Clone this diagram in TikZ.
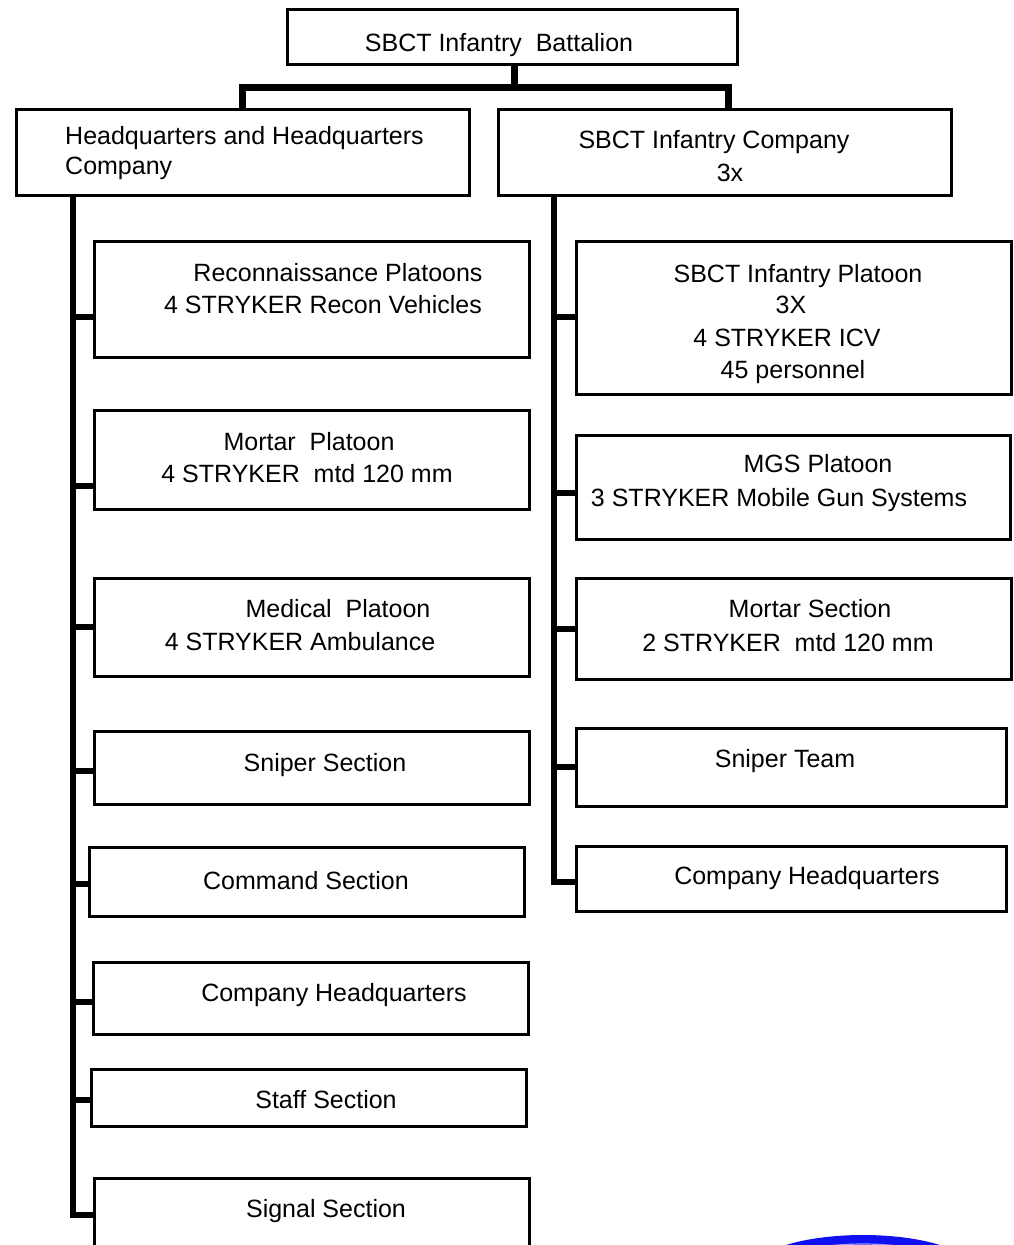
\documentclass[tikz,border=0pt]{standalone}
\usepackage{fontspec}
\setmainfont{Liberation Sans}
\usepackage{tikz}
\usetikzlibrary{positioning,calc}
\usepackage{xcolor}
\definecolor{logoblue}{HTML}{1010F0}
\newcommand{\orgbox}[5]{%
  \node[draw=black,line width=2.6pt,minimum width={(#4-#2)*1pt},
        minimum height={(#5-#3)*1pt},anchor=north west,inner sep=0pt] (#1) at (#2,#3) {};
}

\begin{document}
\begin{tikzpicture}[x=1pt,y=-1pt,
    lbl/.style={font=\fontsize{25}{30}\selectfont,inner sep=0pt,anchor=base},
    trunk/.style={line width=7pt},
    spine/.style={line width=5.5pt},
    branch/.style={line width=6pt,line cap=rect}]
  \useasboundingbox (0,0) rectangle (1013,1245);
  \clip (0,0) rectangle (1013,1245);

  \orgbox{bn}{286}{8}{736}{63}
  \orgbox{hhc}{15}{108}{468}{194}
  \orgbox{co}{497}{108}{950}{194}

  \orgbox{recon}{93}{240}{528}{356}
  \orgbox{mortar}{93}{409}{528}{508}
  \orgbox{medic}{93}{577}{528}{675}
  \orgbox{snipsec}{93}{730}{528}{803}
  \orgbox{cmdsec}{88}{846}{523}{915}
  \orgbox{cohq}{92}{961}{527}{1033}
  \orgbox{staff}{90}{1068}{525}{1125}
  \orgbox{signal}{93}{1177}{528}{1275}

  \orgbox{ipl}{575}{240}{1010}{393}
  \orgbox{mgs}{575}{434}{1009}{538}
  \orgbox{mortsec}{575}{577}{1010}{678}
  \orgbox{sniptm}{575}{727}{1005}{805}
  \orgbox{rcohq}{575}{845}{1005}{910}

  \node[lbl] (bn-t) at (499,51) {SBCT Infantry~ Battalion};
  \node[lbl,anchor=base west] (hhc-t1) at (65,144) {Headquarters and Headquarters};
  \node[lbl,anchor=base west] (hhc-t2) at (65,174) {Company};
  \foreach \nm/\x/\y/\t in {co-t1/714/148/SBCT Infantry Company, co-t2/730/181/3x,
      recon-t1/338/281/Reconnaissance Platoons, recon-t2/323/313/4 STRYKER Recon Vehicles,
      mortar-t1/309/450/Mortar~ Platoon, mortar-t2/307/482/4 STRYKER~ mtd 120 mm,
      medic-t1/338/617/Medical~ Platoon, medic-t2/300/650/4 STRYKER Ambulance,
      snipsec-t/325/771/Sniper Section, cmdsec-t/306/889/Command Section,
      cohq-t/334/1001/Company Headquarters, staff-t/326/1108/Staff Section,
      signal-t/326/1217/Signal Section,
      ipl-t1/798/282/SBCT Infantry Platoon, ipl-t2/791/313/3X,
      ipl-t3/787/346/4 STRYKER ICV, ipl-t4/793/378/45 personnel,
      mgs-t1/818/472/MGS Platoon, mgs-t2/779/506/3 STRYKER Mobile Gun Systems,
      mortsec-t1/810/617/Mortar Section, mortsec-t2/788/651/2 STRYKER~ mtd 120 mm,
      sniptm-t/785/767/Sniper Team, rcohq-t/807/884/Company Headquarters}
    \node[lbl] (\nm) at (\x,\y) {\t};

  \draw[trunk] ($(bn.south)+(2,0)$) -- ($(bn.south)+(2,22)$) coordinate (tee);
  \draw[trunk] (hhc.north) |- (tee) -| ($(co.north)+(4,0)$);

  \coordinate (hhcfoot) at ($(hhc.south west)+(58,0)$);
  \coordinate (cofoot) at ($(co.south west)+(57,0)$);
  \draw[spine] (hhcfoot) -- (hhcfoot |- 0,1215);
  \draw[spine] (cofoot) -- (cofoot |- 0,882);
  \foreach \n/\y in {recon/317, mortar/486, medic/627, snipsec/771, cmdsec/884,
      cohq/1002, staff/1100, signal/1215}
    \draw[branch] (hhcfoot |- 0,\y) -- (\n.west |- 0,\y);
  \foreach \n/\y in {ipl/317, mgs/493, mortsec/629, sniptm/767, rcohq/882}
    \draw[branch] (cofoot |- 0,\y) -- (\n.west |- 0,\y);

  \begin{scope}
    \clip (700,1200) rectangle (940,1245);
    \fill[logoblue] (863,1270) ellipse [x radius=110, y radius=35];
    \draw[white,opacity=0.6,line width=1.2pt] (863,1276) ellipse [x radius=100, y radius=32];
  \end{scope}
\end{tikzpicture}
\end{document}
